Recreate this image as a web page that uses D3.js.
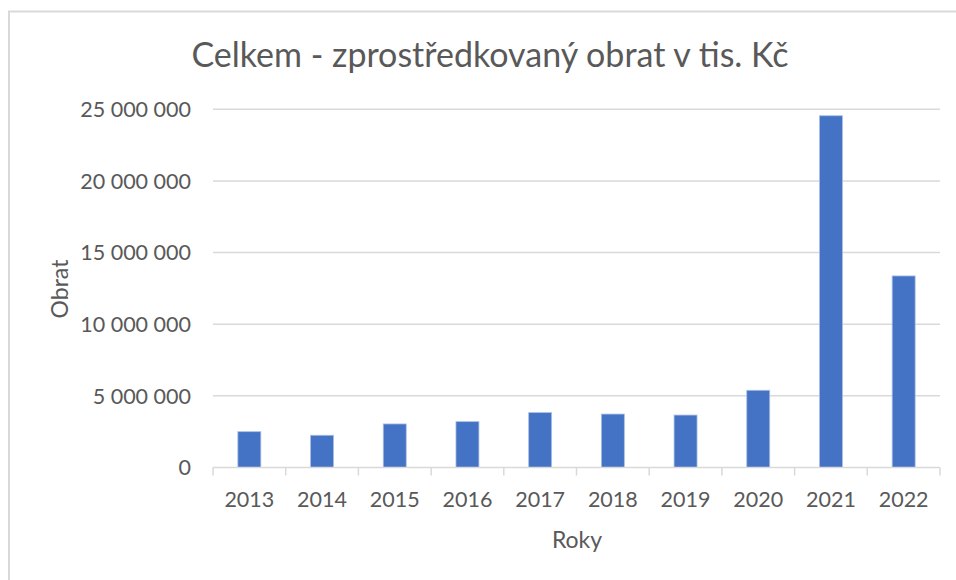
<!DOCTYPE html>
<html><head><meta charset="utf-8">
<script src="https://cdn.jsdelivr.net/npm/d3@7"></script>
<style>body{margin:0;background:#fff;}svg{display:block;}</style>
</head><body>
<svg id="c" width="956" height="580"></svg>
<script>
const categories = ["2013","2014","2015","2016","2017","2018","2019","2020","2021","2022"];
const values = [2500000, 2250000, 3040000, 3200000, 3830000, 3730000, 3660000, 5390000, 24550000, 13370000];
const yTicks = [0, 5000000, 10000000, 15000000, 20000000, 25000000];
const titleText = "Celkem - zprostředkovaný obrat v tis. Kč";
const xTitle = "Roky", yTitle = "Obrat";

const svg = d3.select("#c");
const font = "Lato, 'Open Sans', sans-serif";
const textCol = "#595959", gridCol = "#d9d9d9";
const m = {left: 213, right: 940, top: 109.3, bottom: 467.5};

// frame
svg.append("path").attr("d", "M9,600 V11.5 H960").attr("fill","none").attr("stroke", gridCol).attr("stroke-width", 2);

const x = d3.scaleBand().domain(categories).range([m.left, m.right]).paddingInner(0.684).paddingOuter(0.342);
const y = d3.scaleLinear().domain([0, 25000000]).range([m.bottom, m.top]);
const fmt = v => d3.format(",")(v).replace(/,/g, " ");

// gridlines
svg.append("g").selectAll("line").data(yTicks.filter(d => d > 0)).join("line")
  .attr("x1", m.left).attr("x2", m.right).attr("y1", d => y(d)).attr("y2", d => y(d))
  .attr("stroke", gridCol).attr("stroke-width", 1.5);

// y tick labels
svg.append("g").selectAll("text").data(yTicks).join("text")
  .attr("x", 191).attr("y", d => y(d)).attr("dy", "0.36em").attr("text-anchor","end")
  .attr("font-family", font).attr("font-size", 21.5).attr("fill", textCol).text(fmt);

// bars
svg.append("g").selectAll("rect").data(values).join("rect")
  .attr("x", (d,i) => x(categories[i])).attr("width", x.bandwidth())
  .attr("y", d => y(d)).attr("height", d => y(0) - y(d))
  .attr("fill", "#4472c4").attr("stroke", "#a9bfe6").attr("stroke-width", 0.8);

// x axis
const xa = svg.append("g");
xa.append("line").attr("x1", m.left).attr("x2", m.right).attr("y1", y(0)).attr("y2", y(0))
  .attr("stroke", gridCol).attr("stroke-width", 1.5);
const step = x.step();
const bounds = d3.range(categories.length + 1).map(i => m.left + i * step);
xa.selectAll("line.t").data(bounds).join("line").attr("class","t")
  .attr("x1", d => d).attr("x2", d => d).attr("y1", y(0)).attr("y2", y(0) + 8)
  .attr("stroke", gridCol).attr("stroke-width", 1.5);
xa.selectAll("text").data(categories).join("text")
  .attr("x", d => x(d) + x.bandwidth()/2).attr("y", 506.5)
  .attr("text-anchor","middle").attr("font-family", font).attr("font-size", 21.5).attr("fill", textCol).text(d => d);

// titles
svg.append("text").attr("x", 490).attr("y", 67).attr("text-anchor","middle")
  .attr("font-family", font).attr("font-size", 34).attr("fill", textCol).text(titleText);
svg.append("text").attr("x", 577).attr("y", 548).attr("text-anchor","middle")
  .attr("font-family", font).attr("font-size", 23).attr("fill", textCol).text(xTitle);
svg.append("text").attr("transform", "translate(68,289) rotate(-90)").attr("text-anchor","middle")
  .attr("font-family", font).attr("font-size", 23).attr("fill", textCol).text(yTitle);
</script>
</body></html>
